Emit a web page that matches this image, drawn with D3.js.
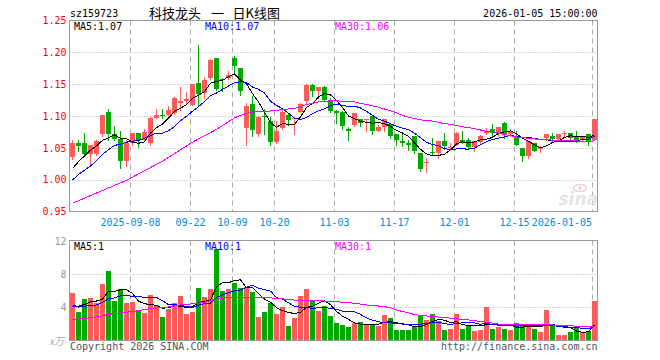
<!DOCTYPE html>
<html><head><meta charset="utf-8">
<script src="https://cdn.jsdelivr.net/npm/d3@7"></script>
<style>
html,body{margin:0;padding:0;background:#fff;}
svg{display:block;}
</style></head><body>
<svg id="c" width="660" height="360"></svg>
<script>
const dates = [
"2025-08-25","2025-08-26","2025-08-27","2025-08-28","2025-08-29",
"2025-09-01","2025-09-02","2025-09-03","2025-09-04","2025-09-05",
"2025-09-08","2025-09-09","2025-09-10","2025-09-11","2025-09-12",
"2025-09-15","2025-09-16","2025-09-17","2025-09-18","2025-09-19",
"2025-09-22","2025-09-23","2025-09-24","2025-09-25","2025-09-26",
"2025-09-29","2025-09-30",
"2025-10-09","2025-10-10",
"2025-10-13","2025-10-14","2025-10-15","2025-10-16","2025-10-17",
"2025-10-20","2025-10-21","2025-10-22","2025-10-23","2025-10-24",
"2025-10-27","2025-10-28","2025-10-29","2025-10-30","2025-10-31",
"2025-11-03","2025-11-04","2025-11-05","2025-11-06","2025-11-07",
"2025-11-10","2025-11-11","2025-11-12","2025-11-13","2025-11-14",
"2025-11-17","2025-11-18","2025-11-19","2025-11-20","2025-11-21",
"2025-11-24","2025-11-25","2025-11-26","2025-11-27","2025-11-28",
"2025-12-01","2025-12-02","2025-12-03","2025-12-04","2025-12-05",
"2025-12-08","2025-12-09","2025-12-10","2025-12-11","2025-12-12",
"2025-12-15","2025-12-16","2025-12-17","2025-12-18","2025-12-19",
"2025-12-22","2025-12-23","2025-12-24","2025-12-25","2025-12-26",
"2025-12-29","2025-12-30","2025-12-31",
"2026-01-05"];

const open = [1.036,1.058,1.057,1.041,1.041, 1.071,1.107,1.072,1.064,1.029, 1.057,1.073,1.063,1.057,1.097, 1.102,1.102,1.105,1.121,1.123, 1.118,1.152,1.136,1.159,1.191, 1.158,1.159, 1.191,1.175, 1.081,1.119,1.071,1.100,1.092, 1.059,1.081,1.102,1.096,1.107, 1.124,1.149,1.139,1.145,1.125, 1.108,1.107,1.079,1.086,1.095, 1.094,1.100,1.077,1.083,1.088, 1.071,1.061,1.057,1.068,1.042, 1.026,1.044,1.042,1.060,1.051, 1.055,1.063,1.063,1.052,1.059, 1.074,1.080,1.071,1.089,1.071, 1.068,1.050,1.037,1.058,1.048, 1.065,1.068,1.064,1.072,1.074, 1.067,1.063,1.071, 1.063];
const high = [1.062,1.062,1.073,1.054,1.062, 1.102,1.111,1.085,1.077,1.063, 1.074,1.074,1.080,1.098,1.111, 1.111,1.115,1.130,1.145,1.137, 1.151,1.212,1.161,1.189,1.191, 1.160,1.170, 1.194,1.176, 1.121,1.132,1.100,1.111,1.099, 1.092,1.109,1.103,1.098,1.121, 1.150,1.150,1.146,1.147,1.129, 1.109,1.108,1.082,1.104,1.096, 1.096,1.102,1.086,1.096,1.089, 1.072,1.071,1.063,1.069,1.042, 1.034,1.066,1.061,1.074,1.057, 1.075,1.076,1.065,1.061,1.070, 1.081,1.087,1.083,1.090,1.080, 1.076,1.050,1.060,1.058,1.053, 1.071,1.073,1.072,1.076,1.074, 1.076,1.069,1.071, 1.095];
const low = [1.032,1.045,1.039,1.025,1.039, 1.069,1.063,1.062,1.018,1.021, 1.055,1.052,1.061,1.055,1.097, 1.097,1.101,1.103,1.109,1.120, 1.117,1.118,1.128,1.158,1.141, 1.139,1.158, 1.168,1.133, 1.055,1.069,1.068,1.072,1.055, 1.057,1.080,1.086,1.072,1.106, 1.120,1.131,1.129,1.123,1.106, 1.089,1.080,1.062,1.085,1.085, 1.077,1.072,1.076,1.076,1.065, 1.055,1.053,1.047,1.042,1.013, 1.012,1.041,1.034,1.048,1.047, 1.054,1.057,1.050,1.045,1.058, 1.071,1.069,1.068,1.066,1.068, 1.055,1.029,1.034,1.045,1.043, 1.063,1.060,1.064,1.067,1.063, 1.059,1.060,1.055, 1.063];
const close = [1.058,1.053,1.041,1.054,1.060, 1.101,1.072,1.064,1.029,1.057, 1.073,1.063,1.075,1.097,1.101, 1.100,1.110,1.128,1.123,1.127, 1.150,1.135,1.157,1.188,1.142, 1.157,1.165, 1.179,1.139, 1.115,1.078,1.099,1.098,1.059, 1.077,1.107,1.094,1.097,1.119, 1.149,1.139,1.145,1.125,1.108, 1.105,1.085,1.077,1.104,1.089, 1.096,1.077,1.083,1.095,1.068, 1.063,1.058,1.055,1.045,1.017, 1.027,1.042,1.060,1.053,1.052, 1.073,1.059,1.052,1.060,1.069, 1.077,1.074,1.083,1.072,1.077, 1.055,1.037,1.060,1.045,1.052, 1.071,1.064,1.072,1.073,1.065, 1.063,1.069,1.060, 1.095];
const volume = [5.72,3.39,4.96,5.08,4.47, 6.77,8.35,4.72,6.17,4.43, 4.60,3.59,3.27,5.44,4.23, 2.78,3.75,4.47,5.32,3.18, 3.39,6.29,5.24,6.17,11.09, 5.93,6.17, 6.89,6.33, 6.45,5.80,2.78,3.39,4.51, 3.14,3.99,1.69,2.66,5.32, 6.17,4.72,3.51,4.11,2.90, 2.10,1.81,1.57,2.01,2.18, 1.89,1.89,1.69,3.02,2.66, 1.21,1.21,1.21,1.61,2.90, 2.42,3.14,2.34,1.21,1.33, 3.14,1.33,1.73,1.09,1.21, 4.03,1.33,1.53,1.33,1.21, 2.01,1.73,1.89,1.33,1.00, 3.63,1.81,0.65,0.65,0.93, 1.41,0.93,1.09, 4.72];

// sessions just before the window (for MA5 / MA10 warm-up)
const priorClose = [0.965,0.975,0.985,0.980,1.000,1.000,0.995,1.010,1.025];
const priorVolume = [4.5,3.8,4.2,3.9,3.85,3.6,3.9,3.5,4.0];

// MA30 lines
const ma30Price = [0.963,0.967,0.971,0.975,0.979, 0.983,0.987,0.991,0.995,0.999, 1.004,1.009,1.014,1.019,1.024, 1.029,1.035,1.041,1.047,1.053, 1.059,1.064,1.069,1.074,1.079, 1.085,1.091, 1.097,1.101, 1.104,1.106,1.107,1.107,1.108, 1.109,1.110,1.111,1.112,1.115, 1.118,1.120,1.122,1.123,1.124, 1.124,1.123,1.123,1.122,1.120, 1.118,1.116,1.114,1.111,1.108, 1.105,1.101,1.098,1.096,1.094, 1.093,1.092,1.090,1.088,1.087, 1.085,1.083,1.082,1.080,1.078, 1.076,1.075,1.073,1.071,1.069, 1.067,1.066,1.065,1.064,1.063, 1.063,1.062,1.062,1.061,1.061, 1.061,1.060,1.060, 1.061];
const ma30Volume = [2.45,2.52,2.60,2.70,2.80, 2.95,3.10,3.20,3.30,3.38, 3.45,3.55,3.68,3.80,3.88, 3.92,4.00,4.15,4.25,4.32, 4.40,4.48,4.60,4.78,4.92, 5.08,5.13, 5.15,5.16, 5.16,5.16,5.15,5.13,5.10, 5.05,5.00,4.90,4.84,4.80, 4.78,4.76,4.76,4.72,4.68, 4.64,4.58,4.52,4.45,4.35, 4.25,4.18,4.12,4.05,3.90, 3.65,3.45,3.30,3.08,3.00, 2.92,2.84,2.78,2.72,2.64, 2.58,2.50,2.43,2.35,2.25, 2.15,2.05,1.92,1.89,1.89, 1.89,1.89,1.89,1.89,1.88, 1.85,1.82,1.79,1.75,1.72, 1.68,1.66,1.66, 1.69];

const tickDates = ["2025-09-08","2025-09-22","2025-10-09","2025-10-20","2025-11-03","2025-11-17","2025-12-01","2025-12-15","2026-01-05"];
const tickLabels = ["2025-09-08","09-22","10-09","10-20","11-03","11-17","12-01","12-15","2026-01-05"];
const priceTicks = [1.25,1.20,1.15,1.10,1.05,1.00,0.95];
const priceGrid = [1.20,1.15,1.10,1.05,1.00];
const volumeTicks = [12,8,4];
const volumeGrid = [8,4];

const code = "sz159723";
const titleParts = ["科技龙头", "一", "日K线图"];
const stamp = "2026-01-05 15:00:00";

// ---------------------------------------------------------------
const MONO = "'DejaVu Sans Mono', monospace";
const RED = "#ff5a5a", GREEN = "#00a800", GRID = "#aaaaaa", FRAME = "#999999";
const svg = d3.select("#c");
const L = 69.5, R = 597.5;
const P = {top: 20.5, bottom: 211.5};
const V = {top: 240.5, bottom: 340.5};

const x = d3.scaleBand().domain(dates).range([70, 70 + 6 * dates.length]);
const yP = d3.scaleLinear().domain([0.95, 1.25]).range([P.bottom, P.top]);
const yV = d3.scaleLinear().domain([0, 12]).range([340, 241]);

function movingAvg(arr, prior, n) {
  const all = prior.concat(arr);
  return arr.map((_, i) => d3.mean(all.slice(i + prior.length - n + 1, i + prior.length + 1)));
}
const ma5P = movingAvg(close, priorClose, 5), ma10P = movingAvg(close, priorClose, 10);
const ma5V = movingAvg(volume, priorVolume, 5), ma10V = movingAvg(volume, priorVolume, 10);

const idx = d3.range(dates.length);
const cx = i => x(dates[i]) + 2.5;

// grids
function grids(top, bottom, yScale, vals) {
  const g = svg.append("g");
  g.selectAll("line.h").data(vals).join("line")
    .attr("x1", L).attr("x2", R)
    .attr("y1", d => Math.round(yScale(d)) + 0.5).attr("y2", d => Math.round(yScale(d)) + 0.5)
    .attr("stroke", GRID).attr("stroke-dasharray", "1,2");
  g.selectAll("line.v").data(tickDates).join("line")
    .attr("x1", d => x(d) + 0.5).attr("x2", d => x(d) + 0.5)
    .attr("y1", top).attr("y2", bottom)
    .attr("stroke", GRID).attr("stroke-dasharray", "5,4");
}
grids(P.top, P.bottom, yP, priceGrid);
grids(V.top, V.bottom, yV, volumeGrid);

// sina watermark
const wm = svg.append("g");
wm.append("ellipse").attr("cx", 580).attr("cy", 188).attr("rx", 6.5).attr("ry", 3.5)
  .attr("fill", "none").attr("stroke", "#f2d2d2").attr("stroke-width", 1.5);
wm.append("circle").attr("cx", 580).attr("cy", 188).attr("r", 1.8).attr("fill", "#f2d2d2");
wm.append("text").attr("x", 598).attr("y", 205).attr("text-anchor", "end")
  .style("font-family", "'DejaVu Sans', sans-serif").style("font-size", "17px")
  .style("font-style", "italic").style("font-weight", "bold")
  .attr("fill", "#e4e4e4").text("sina");

// candles
const up = i => close[i] >= open[i];
const cg = svg.append("g").attr("shape-rendering", "crispEdges");
cg.selectAll("line").data(idx).join("line")
  .attr("x1", cx).attr("x2", cx)
  .attr("y1", i => Math.round(yP(high[i]))).attr("y2", i => Math.round(yP(low[i])) + 1)
  .attr("stroke", i => up(i) ? RED : GREEN);
cg.selectAll("rect").data(idx).join("rect")
  .attr("x", i => x(dates[i])).attr("width", 5)
  .attr("y", i => Math.round(yP(Math.max(open[i], close[i]))))
  .attr("height", i => Math.max(1, Math.round(yP(Math.min(open[i], close[i]))) - Math.round(yP(Math.max(open[i], close[i])))))
  .attr("fill", i => up(i) ? RED : GREEN);

// volume bars
svg.append("g").attr("shape-rendering", "crispEdges")
  .selectAll("rect").data(idx).join("rect")
  .attr("x", i => x(dates[i])).attr("width", 5)
  .attr("y", i => Math.round(yV(volume[i])))
  .attr("height", i => yV(0) - Math.round(yV(volume[i])) + 1)
  .attr("fill", i => up(i) ? RED : GREEN);

// MA lines
function maLine(vals, yScale, color) {
  svg.append("path").datum(vals)
    .attr("d", d3.line().x((d, i) => cx(i)).y(d => yScale(d)))
    .attr("fill", "none").attr("stroke", color).attr("stroke-width", 1)
    .attr("shape-rendering", "crispEdges");
}
maLine(ma5P, yP, "#000000"); maLine(ma10P, yP, "#0000ff"); maLine(ma30Price, yP, "#ff00ff");
maLine(ma5V, yV, "#000000"); maLine(ma10V, yV, "#0000ff"); maLine(ma30Volume, yV, "#ff00ff");

// frames
[P, V].forEach(p => svg.append("rect").attr("x", L).attr("y", p.top)
  .attr("width", R - L).attr("height", p.bottom - p.top)
  .attr("fill", "none").attr("stroke", FRAME).attr("shape-rendering", "crispEdges"));

// axes
function styleAxis(g, color) {
  g.select(".domain").remove();
  g.selectAll("text").attr("fill", color).style("font-family", MONO).style("font-size", "10px");
}
svg.append("g").attr("transform", `translate(${L},0)`)
  .call(d3.axisLeft(yP).tickValues(priceTicks).tickSize(0).tickPadding(3).tickFormat(d3.format(".2f")))
  .call(g => styleAxis(g, "#ff0000"));
svg.append("g").attr("transform", `translate(${L},0)`)
  .call(d3.axisLeft(yV).tickValues(volumeTicks).tickSize(0).tickPadding(3).tickFormat(d3.format("d")))
  .call(g => styleAxis(g, "#999999"));
const xa = svg.append("g").attr("transform", `translate(-2.5,${P.bottom})`)
  .call(d3.axisBottom(x).tickValues(tickDates).tickSize(0).tickPadding(7)
    .tickFormat(d => tickLabels[tickDates.indexOf(d)]))
  .call(g => styleAxis(g, "#0a88dc"));
xa.selectAll(".tick").filter((d, i, n) => i === n.length - 1)
  .select("text").attr("text-anchor", "end").attr("dx", "-0.5");

// texts
const txt = (xx, yy, s, color, anchor) => svg.append("text").attr("x", xx).attr("y", yy)
  .attr("text-anchor", anchor || "start").attr("fill", color)
  .style("font-family", MONO).style("font-size", "10px").text(s);
txt(70, 17, code, "#000");
const tt = svg.append("text").attr("y", 18).attr("fill", "#000")
  .style("font-family", "'Noto Sans CJK SC', sans-serif").style("font-size", "13px");
tt.append("tspan").attr("x", 149).text(titleParts[0]);
tt.append("tspan").attr("x", 211).text(titleParts[1]);
tt.append("tspan").attr("x", 232.5).text(titleParts[2]);
txt(597.5, 17, stamp, "#000", "end");

const last = dates.length - 1;
const f2 = d3.format(".2f");
txt(74, 30, "MA5:" + f2(ma5P[last]), "#000");
txt(205, 30, "MA10:" + f2(ma10P[last]), "#0000ff");
txt(335, 30, "MA30:" + f2(ma30Price[last]), "#ff00ff");
txt(74, 250, "MA5:" + Math.floor(ma5V[last]), "#000");
txt(205, 250, "MA10:" + Math.floor(ma10V[last]), "#0000ff");
txt(335, 250, "MA30:" + Math.floor(ma30Volume[last]), "#ff00ff");

svg.append("text").attr("x", 64).attr("y", 345).attr("text-anchor", "end").attr("fill", "#aaaaaa")
  .style("font-family", "'Noto Sans CJK SC', sans-serif").style("font-size", "10px")
  .style("font-style", "italic").text("x万");
txt(70, 350, "Copyright 2026 SINA.COM", "#555555");
txt(597.5, 350, "http://finance.sina.com.cn", "#555555", "end");
</script>
</body></html>
